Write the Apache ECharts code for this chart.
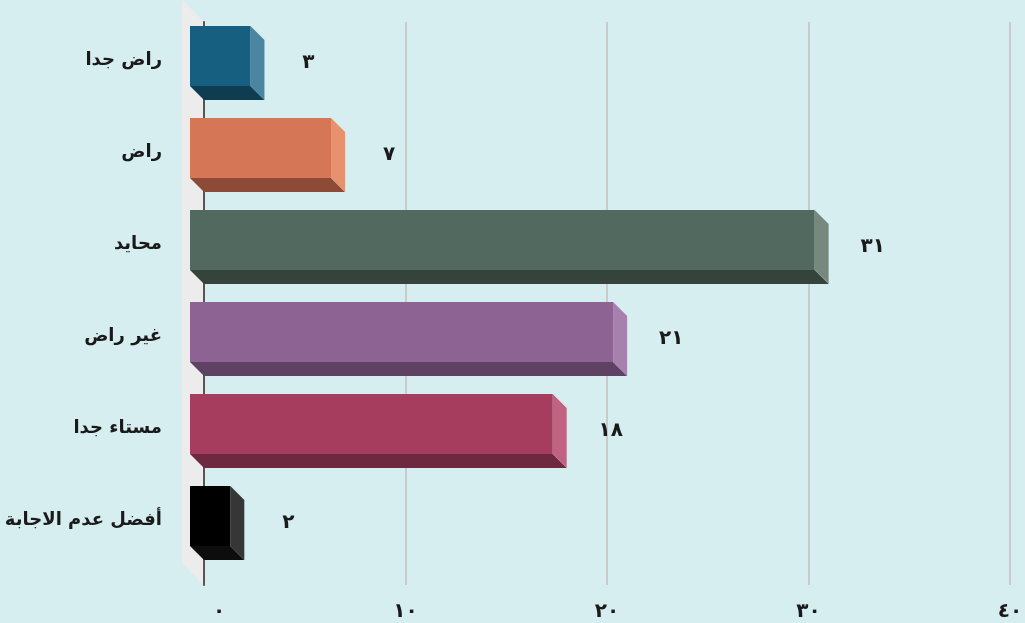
<!DOCTYPE html>
<html>
<head>
<meta charset="utf-8">
<script src="https://cdn.jsdelivr.net/npm/echarts@6/dist/echarts.min.js"></script>
<style>
html,body{margin:0;padding:0;background:#d6eef0;}
#chart{width:1025px;height:623px;}
</style>
</head>
<body>
<div id="chart"></div>
<script>
const categories = ['راض جدا', 'راض', 'محايد', 'غير راض', 'مستاء جدا', 'أفضل عدم الاجابة'];
const values = [3, 7, 31, 21, 18, 2];
const tickLabels = ['٠', '١٠', '٢٠', '٣٠', '٤٠'];

const frontColors = ['#175f80', '#d57656', '#52695f', '#8c6393', '#a63d5f', '#000000'];
const sideColors = ['#4a86a2', '#e8916f', '#77887f', '#a780ad', '#c26282', '#363636'];
const bottomColors = ['#0e3c51', '#8d4b37', '#34443d', '#5e4163', '#6e2840', '#0d0d0d'];

const FONT = "'DejaVu Sans', sans-serif";
const arabicDigits = '٠١٢٣٤٥٦٧٨٩';
function toArabic(n) {
  return String(n).replace(/[0-9]/g, d => arabicDigits[+d]);
}

const chart = echarts.init(document.getElementById('chart'), null, {renderer: 'canvas'});

const DEPTH = 14;

chart.setOption({
  animation: false,
  backgroundColor: '#d6eef0',
  grid: [
    {left: 204, right: 15, top: 22, bottom: 38, containLabel: false, outerBoundsMode: 'none'},
    {left: 204, right: 15, top: 10, bottom: 61, containLabel: false, outerBoundsMode: 'none'}
  ],
  xAxis: [
    {
      gridIndex: 0, type: 'value', min: 0, max: 40, interval: 10,
      axisLine: {show: false}, axisTick: {show: false},
      splitLine: {show: true, lineStyle: {color: '#c8cacb', width: 2}},
      axisLabel: {
        margin: 17,
        color: '#1a1a1a', fontFamily: FONT, fontWeight: 'bold', fontSize: 20,
        formatter: function (v) {
          const i = Math.round(v / 10);
          return i === 0 ? '{z|' + tickLabels[0] + '}' : tickLabels[i];
        },
        rich: {z: {padding: [0, 0, 0, 30], color: '#1a1a1a', fontFamily: FONT, fontWeight: 'bold', fontSize: 20}}
      }
    },
    {gridIndex: 1, type: 'value', min: 0, max: 40, interval: 10, show: false}
  ],
  yAxis: [
    {
      gridIndex: 0, type: 'value', min: 0, max: 1,
      axisLine: {show: true, onZero: false, lineStyle: {color: '#555555', width: 2}},
      axisTick: {show: false}, axisLabel: {show: false}, splitLine: {show: false}
    },
    {
      gridIndex: 1, type: 'category', data: categories, inverse: true,
      axisLine: {show: false}, axisTick: {show: false}, splitLine: {show: false},
      axisLabel: {
        margin: 42, color: '#1a1a1a', fontFamily: FONT, fontWeight: 'bold', fontSize: 18,
        formatter: function (v) { return '{c|' + v + '}'; },
        rich: {c: {padding: [9, 0, 0, 0], color: '#1a1a1a', fontFamily: FONT, fontWeight: 'bold', fontSize: 18}}
      }
    }
  ],
  series: [
    {
      type: 'custom', xAxisIndex: 0, yAxisIndex: 0, z: 0, silent: true,
      data: [[0, 0]],
      renderItem: function (params, api) {
        const cs = params.coordSys;
        const w = 22;
        return {
          type: 'polygon',
          shape: {points: [[cs.x - w, cs.y - w], [cs.x - 1, cs.y - 1], [cs.x - 1, cs.y + cs.height], [cs.x - w, cs.y + cs.height - w]]},
          style: {fill: '#ececec'}
        };
      }
    },
    {
      type: 'custom', xAxisIndex: 1, yAxisIndex: 1, z: 5,
      encode: {x: 0, y: 1},
      data: values.map((v, i) => [v, i]),
      renderItem: function (params, api) {
        const i = api.value(1);
        const v = api.value(0);
        const end = api.coord([v, i]);
        const start = api.coord([0, i]);
        const h = api.size([0, 1])[1] * 0.652;
        const d = DEPTH;
        const x0 = start[0] - d, x1 = end[0] - d;
        const yt = end[1] - h / 2, yb = end[1] + h / 2;
        return {
          type: 'group',
          children: [
            {type: 'polygon', shape: {points: [[x0, yb], [x1, yb], [x1 + d, yb + d], [x0 + d, yb + d]]}, style: {fill: bottomColors[i]}},
            {type: 'polygon', shape: {points: [[x1, yt], [x1 + d, yt + d], [x1 + d, yb + d], [x1, yb]]}, style: {fill: sideColors[i]}},
            {type: 'rect', shape: {x: x0, y: yt, width: x1 - x0, height: h}, style: {fill: frontColors[i]}},
            {type: 'text', x: end[0] + 44, y: end[1] + 7,
              style: {text: toArabic(v), fill: '#1a1a1a', font: 'bold 20px ' + FONT, textAlign: 'center', textVerticalAlign: 'middle'}}
          ]
        };
      }
    }
  ]
});
</script>
</body>
</html>
